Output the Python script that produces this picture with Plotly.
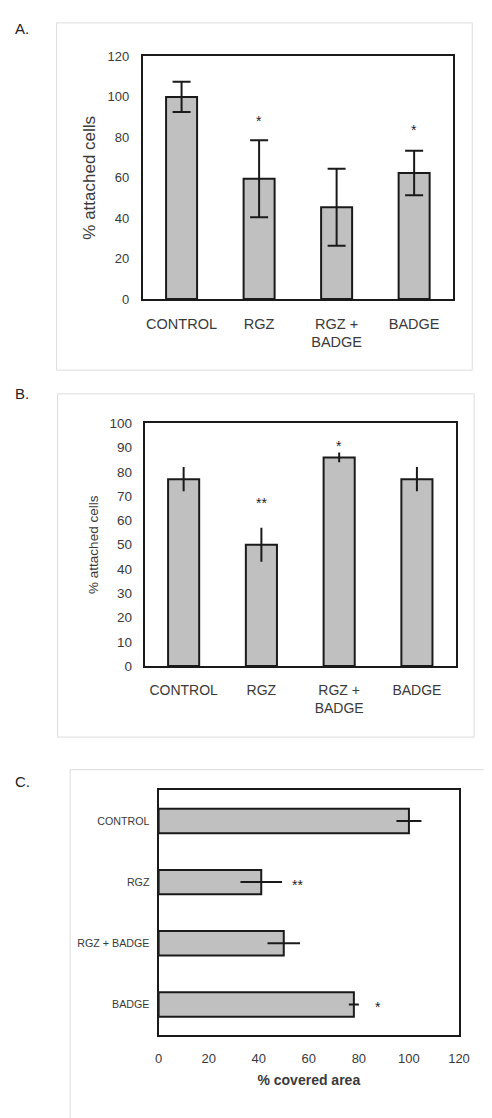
import plotly.graph_objects as go

# page body adds an 8px offset; size the figure so it fills the 492x1118 window
OFF = 8
W, H = 492 - OFF, 1118 - OFF

# ---------------- data ----------------
cats_A = ["CONTROL", "RGZ", "RGZ +<br>BADGE", "BADGE"]
vals_A = [100, 59.5, 45.4, 62.3]
err_A = [7.5, 19, 19, 11]
star_txt_A = ["*", "*"]
star_cat_A = ["RGZ", "BADGE"]
star_pos_A = [88.6, 84]
yticks_A = [0, 20, 40, 60, 80, 100, 120]

cats_B = ["CONTROL", "RGZ", "RGZ +<br>BADGE", "BADGE"]
vals_B = [77, 50, 86, 77]
err_B = [5, 7, 2, 5]
star_txt_B = ["**", "*"]
star_cat_B = ["RGZ", "RGZ +<br>BADGE"]
star_pos_B = [68.4, 92]
yticks_B = [0, 10, 20, 30, 40, 50, 60, 70, 80, 90, 100]

cats_C = ["CONTROL", "RGZ", "RGZ + BADGE", "BADGE"]
vals_C = [100, 41, 50, 78]
err_C = [5, 8.3, 6.5, 2]
star_txt_C = ["**", "*"]
star_cat_C = ["RGZ", "BADGE"]
star_pos_C = [55.5, 87.6]
xticks_C = [0, 20, 40, 60, 80, 100, 120]

# ---------------- style ----------------
FONT = "Liberation Sans, Arial, sans-serif"
TXT = "#3a3a3a"
BAR_FILL = "#c0c0c0"
EDGE = "#1a1a1a"


def px_x(x):
    return (x - OFF) / W


def px_y(y):
    return 1 - (y - OFF) / H


fig = go.Figure()

# Panel A
fig.add_trace(go.Bar(
    x=cats_A, y=vals_A, xaxis="x", yaxis="y",
    marker=dict(color=BAR_FILL, line=dict(color=EDGE, width=2)),
    error_y=dict(type="data", array=err_A, color=EDGE, thickness=2, width=9),
    showlegend=False, hoverinfo="x+y"))

# Panel B
fig.add_trace(go.Bar(
    x=cats_B, y=vals_B, xaxis="x2", yaxis="y2",
    marker=dict(color=BAR_FILL, line=dict(color=EDGE, width=2)),
    error_y=dict(type="data", array=err_B, color=EDGE, thickness=2, width=0),
    showlegend=False, hoverinfo="x+y"))

# Panel C (horizontal)
fig.add_trace(go.Bar(
    y=cats_C, x=vals_C, orientation="h", xaxis="x3", yaxis="y3",
    marker=dict(color=BAR_FILL, line=dict(color=EDGE, width=2)),
    error_x=dict(type="data", array=err_C, color=EDGE, thickness=2, width=0),
    showlegend=False, hoverinfo="x+y"))

frame = dict(showline=True, linecolor=EDGE, linewidth=2, mirror=True,
             showgrid=False, zeroline=False)

fig.update_layout(
    width=W, height=H,
    margin=dict(l=0, r=0, t=0, b=0),
    paper_bgcolor="white", plot_bgcolor="white",
    bargap=0.6,
    font=dict(family=FONT, color=TXT),
    # A
    xaxis=dict(domain=[px_x(143), px_x(463)], anchor="y", **frame,
               ticks="outside", ticklen=10, tickcolor="rgba(0,0,0,0)",
               tickfont=dict(size=14.5), categoryorder="array", categoryarray=cats_A),
    yaxis=dict(domain=[px_y(296), px_y(50)], anchor="x", **frame,
               range=[0, 120], tickvals=yticks_A,
               ticks="outside", ticklen=9, tickcolor="rgba(0,0,0,0)",
               tickfont=dict(size=13),
               title=dict(text="% attached cells", font=dict(size=17), standoff=8)),
    # B
    xaxis2=dict(domain=[px_x(145), px_x(466)], anchor="y2", **frame,
                ticks="outside", ticklen=10, tickcolor="rgba(0,0,0,0)",
                tickfont=dict(size=14), categoryorder="array", categoryarray=cats_B),
    yaxis2=dict(domain=[px_y(668), px_y(422)], anchor="x2", **frame,
                range=[0, 100], tickvals=yticks_B,
                ticks="outside", ticklen=8, tickcolor="rgba(0,0,0,0)",
                tickfont=dict(size=13.5),
                title=dict(text="% attached cells", font=dict(size=13.5), standoff=8)),
    # C
    xaxis3=dict(domain=[px_x(159.3), px_x(469.3)], anchor="y3", **frame,
                range=[0, 120], tickvals=xticks_C,
                ticks="outside", ticklen=10, tickcolor="rgba(0,0,0,0)",
                tickfont=dict(size=13),
                title=dict(text="<b>% covered area</b>", font=dict(size=14), standoff=11)),
    yaxis3=dict(domain=[px_y(1042), px_y(794)], anchor="x3", **frame,
                categoryorder="array", categoryarray=cats_C, autorange="reversed",
                ticks="outside", ticklen=5, tickcolor="rgba(0,0,0,0)",
                tickfont=dict(size=10.7)),
)

# outer panel boxes
for (x0, y0, x1, y1) in [(54, 16, 483, 368), (55, 392, 485, 740), (68, 773, 500, 1130)]:
    fig.add_shape(type="rect", xref="paper", yref="paper",
                  x0=px_x(x0), x1=px_x(x1), y0=px_y(y1), y1=px_y(y0),
                  line=dict(color="#dddddd", width=1), fillcolor="rgba(0,0,0,0)", layer="below")

# panel letters
for lab, yy in [("A.", 22), ("B.", 392), ("C.", 785)]:
    fig.add_annotation(text=lab, xref="paper", yref="paper", x=px_x(9), y=px_y(yy),
                       xanchor="left", yanchor="middle", showarrow=False,
                       font=dict(size=15, color="#222222"))

# significance stars
for t, c, v in zip(star_txt_A, star_cat_A, star_pos_A):
    fig.add_annotation(text=t, x=c, y=v, xref="x", yref="y", showarrow=False,
                       font=dict(size=14, color="#222222"), yshift=-1)
for t, c, v in zip(star_txt_B, star_cat_B, star_pos_B):
    fig.add_annotation(text=t, x=c, y=v, xref="x2", yref="y2", showarrow=False,
                       font=dict(size=14, color="#222222"), yshift=-3)
for t, c, v in zip(star_txt_C, star_cat_C, star_pos_C):
    fig.add_annotation(text=t, y=c, x=v, xref="x3", yref="y3", showarrow=False,
                       font=dict(size=14, color="#222222"), yshift=-3)

fig.write_html("out.html")
